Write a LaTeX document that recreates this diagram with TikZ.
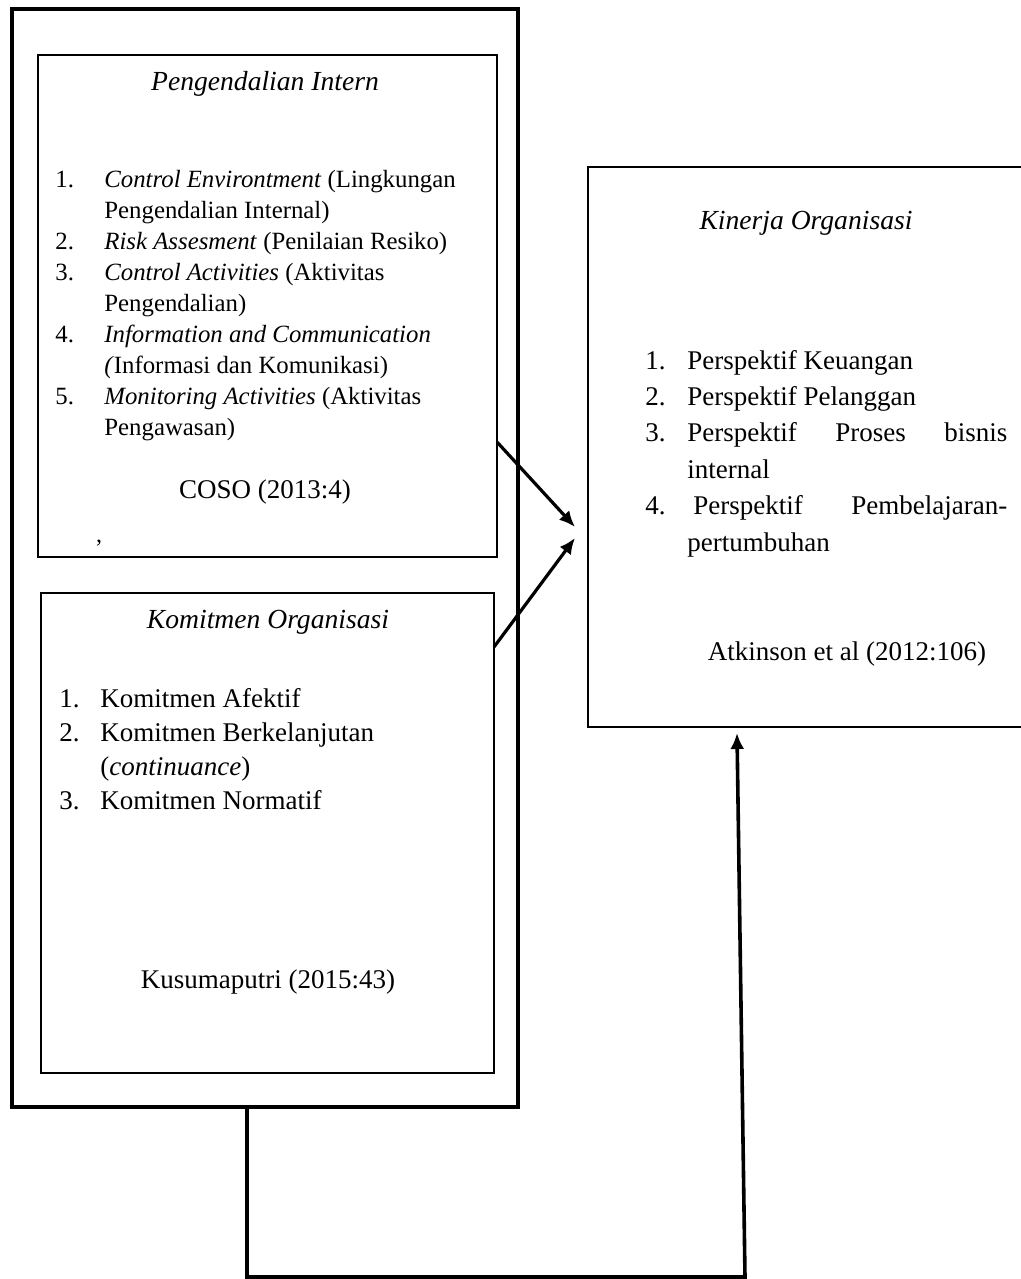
\documentclass[tikz,border=0pt]{standalone}
\usepackage{fontspec}
\setmainfont{Liberation Serif}
\usetikzlibrary{arrows.meta}
\tikzset{box/.style = {draw, rectangle, inner sep = 0, outer sep = 0, line width = 1.1pt}}
\tikzset{link/.style = {line width = 1.6pt, -{Latex[length=8pt, width=7pt]}}}
\tikzset{head/.style = {font = \fontsize{13.8}{16}\selectfont\itshape}}
\tikzset{cite/.style = {font = \fontsize{13.5}{16}\selectfont}}
\tikzset{items/.style = {anchor = base west, inner sep = 0}}

\begin{document}
\begin{tikzpicture}[x = 0.5pt, y = -0.5pt]

      \useasboundingbox (0,0) rectangle (1021,1279);
      \clip (0,0) rectangle (1021,1279);

      \node[box, line width=2.2pt, minimum width=253pt, minimum height=549pt] (grp) at (265,558) {};
      \node[box, minimum width=229.5pt, minimum height=251pt] (pi) at (267.5,306) {};
      \node[box, minimum width=226.5pt, minimum height=240pt] (ko) at (267.5,833) {};
      \node[box, minimum width=221pt,   minimum height=280pt] (ki) at (809,447)   {};

      \node[head] (piTitle) at (265,84)  {Pengendalian Intern};
      \node[head] (koTitle) at (268,622) {Komitmen Organisasi};
      \node[head] (kiTitle) at (806,223) {Kinerja Organisasi};

      \node[items, font=\fontsize{12.4}{15.5}\selectfont] (piList) at (55,187) {%
        \begin{tabular}[t]{@{}p{24.5pt}@{}l@{}}
          1. & \textit{Control Environtment} (Lingkungan\\
             & Pengendalian Internal)\\
          2. & \textit{Risk Assesment} (Penilaian Resiko)\\
          3. & \textit{Control Activities} (Aktivitas\\
             & Pengendalian)\\
          4. & \textit{Information and Communication}\\
             & \textit{(}Informasi dan Komunikasi)\\
          5. & \textit{Monitoring Activities} (Aktivitas\\
             & Pengawasan)
        \end{tabular}};

      \node[items, font=\fontsize{13.5}{17.1}\selectfont] (koList) at (59,707) {%
        \begin{tabular}[t]{@{}p{20.5pt}@{}l@{}}
          1. & Komitmen Afektif\\
          2. & Komitmen Berkelanjutan\\
             & (\textit{continuance})\\
          3. & Komitmen Normatif
        \end{tabular}};

      \node[items, font=\fontsize{13.5}{18.2}\selectfont] (kiList) at (645,369) {%
        \begin{tabular}[t]{@{}p{21pt}@{}l@{}}
          1. & Perspektif Keuangan\\
          2. & Perspektif Pelanggan\\
          3. & \makebox[160pt][s]{Perspektif Proses bisnis}\\
             & internal\\
          4. & \hspace{3pt}\makebox[157pt][s]{Perspektif Pembelajaran-}\\
             & pertumbuhan
        \end{tabular}};

      \node[cite] (piRef) at (265,492) {COSO (2013:4)};
      \node[cite] (koRef) at (268,982) {Kusumaputri (2015:43)};
      \node[cite] (kiRef) at (847,654) {Atkinson et al (2012:106)};
      \node[anchor=base, inner sep=0, font=\fontsize{12}{14}\selectfont] (piMark) at (99,542) {,};

      \coordinate (t1) at (575,527);
      \coordinate (t2) at (575,538);

      \draw[link] ([yshift=57.5pt]pi.south east) -- (t1);
      \draw[link] ([yshift=-27pt]ko.north east) -- (t2);
      \draw[link, line width=1.8pt] ([xshift=117.5pt]grp.south west) -- ++(0,170) -- ++(498,0)
        -- ([xshift=74.5pt, yshift=-3pt]ki.south west);

    \end{tikzpicture}
\end{document}
